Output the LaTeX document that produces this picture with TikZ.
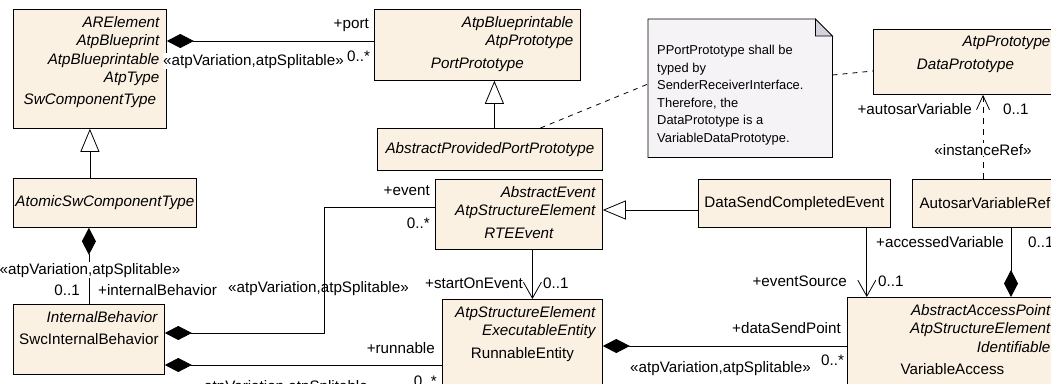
\documentclass[tikz,border=0pt]{standalone}
\usepackage{fontspec}
\setmainfont{Liberation Sans}
\usetikzlibrary{arrows.meta, backgrounds}

\definecolor{clsfill}{RGB}{251,241,227}
\definecolor{notefill}{RGB}{246,243,247}
\definecolor{foldfill}{RGB}{212,210,218}

\newcommand{\umlfont}{\fontsize{15.2}{18.3}\selectfont}
\newcommand{\notefont}{\fontsize{12.9}{17.5}\selectfont}
% class body: width, height, stereotypes, name
\newcommand{\clsbody}[4]{\parbox[c][#2][t]{#1}{\vspace*{7pt}%
  {\raggedleft\rightskip=7pt\itshape #3\par}\vspace{4pt}{\centering #4\par}}}

\begin{document}
\begin{tikzpicture}[x=1pt, y=-1pt,
        cls/.style={draw, fill=clsfill, anchor=north west, inner sep=0pt, line width=0.8pt, font=\umlfont},
        lbl/.style={font=\umlfont, inner sep=0pt},
        comp/.style={{Diamond[length=27pt,width=14pt]}-, line width=0.8pt},
        compend/.style={-{Diamond[length=27pt,width=14pt]}, line width=0.8pt},
        gen/.style={-{Triangle[length=23pt,width=19pt,fill=white]}, line width=0.8pt},
        nav/.style={-{Straight Barb[length=16pt,width=18pt]}, line width=0.8pt},
        dep/.style={-{Straight Barb[length=14pt,width=13pt]}, dash pattern=on 6pt off 5pt, line width=0.8pt},
        notelink/.style={dash pattern=on 5pt off 5pt, line width=0.8pt}
    ]
    \useasboundingbox (0,0) rectangle (1051,383);
    \clip (0,0) rectangle (1051,383);

    % classes
    \node[cls] (swc) at (13,9) {\clsbody{153pt}{119pt}{ARElement\\AtpBlueprint\\AtpBlueprintable\\AtpType}{\itshape SwComponentType}};
    \node[cls] (port) at (374,9) {\clsbody{206pt}{71pt}{AtpBlueprintable\\AtpPrototype}{\itshape PortPrototype}};
    \node[cls, minimum width=225pt, minimum height=42pt] (appp) at (377,128) {\itshape AbstractProvidedPortPrototype};
    \node[cls] (dataproto) at (873,29) {\clsbody{184pt}{65pt}{AtpPrototype}{\itshape DataPrototype}};
    \node[cls, minimum width=183pt, minimum height=49pt] (atomic) at (13,178) {\itshape AtomicSwComponentType};
    \node[cls] (rte) at (435,179) {\clsbody{167pt}{70pt}{AbstractEvent\\AtpStructureElement}{\itshape RTEEvent}};
    \node[cls, minimum width=192pt, minimum height=48pt] (dsce) at (698,179) {DataSendCompletedEvent};
    \node[cls, minimum width=145pt, minimum height=48pt] (avr) at (912,179) {AutosarVariableRef};
    \node[cls] (ib) at (13,304) {\clsbody{151pt}{70pt}{InternalBehavior}{SwcInternalBehavior}};
    \node[cls] (runnable) at (442,299) {\clsbody{160pt}{90pt}{AtpStructureElement\\ExecutableEntity}{RunnableEntity}};
    \node[cls] (va) at (847,297) {\clsbody{210pt}{120pt}{AbstractAccessPoint\\AtpStructureElement\\Identifiable}{VariableAccess}};

    % note
    \node[anchor=north west, inner sep=0pt, font=\notefont] (note) at (648,19) {\parbox[c][138pt][t]{184pt}{\vspace*{26pt}\raggedright\leftskip=9pt
        PPortPrototype shall be\\typed by\\SenderReceiverInterface.\\Therefore, the\\DataPrototype is a\\VariableDataPrototype.}};
    \begin{scope}[on background layer]
        \fill[white] (0,0) rectangle (1051,383);
        \draw[fill=notefill, line width=0.8pt] (note.north west) -- ([xshift=-17pt]note.north east) -- ([yshift=-17pt]note.north east) -- (note.south east) -- (note.south west) -- cycle;
        \draw[fill=foldfill, line width=0.8pt] ([xshift=-17pt]note.north east) -- ([xshift=-17pt,yshift=-17pt]note.north east) -- ([yshift=-17pt]note.north east) -- cycle;
    \end{scope}
    \draw[notelink] ([xshift=50.5pt]appp.north) -- ([yshift=-65pt]note.north west);
    \draw[notelink] ([yshift=-56pt]note.north east) -- ([yshift=-42pt]dataproto.north west);

    % connectors
    \draw[comp] ([yshift=-32pt]swc.north east) -- ([yshift=-32pt]swc.north east -| port.west);
    \draw[gen] (atomic.north -| swc.south) -- (swc.south);
    \draw[gen] ([xshift=4.5pt]appp.north) -- ([xshift=4.5pt]appp.north |- port.south);
    \draw[comp] (ib.north |- atomic.south) -- (ib.north);
    \coordinate (evbend) at (324,207);
    \draw[comp] ([yshift=-29pt]ib.north east) -| (evbend) -- (evbend -| rte.west);
    \draw[comp] ([yshift=-61pt]ib.north east) -- ([yshift=-61pt]ib.north east -| runnable.west);
    \draw[gen] ([yshift=-31pt]dsce.north west) -- ([yshift=-31pt]dsce.north west -| rte.east);
    \draw[nav] ([xshift=13.5pt]rte.south) -- ([xshift=13.5pt]rte.south |- runnable.north);
    \draw[comp] ([yshift=-47pt]runnable.north east) -- ([yshift=-47pt]runnable.north east -| va.west);
    \draw[nav] ([xshift=-24pt]dsce.south east) -- ([xshift=-24pt]dsce.south east |- va.north);
    \draw[compend] ([xshift=99pt]avr.south west) -- ([xshift=99pt]avr.south west |- va.north);
    \draw[dep] ([xshift=71pt]avr.north west) -- ([xshift=71pt]avr.north west |- dataproto.south);

    % role names, multiplicities, stereotypes
    \node[lbl, anchor=base east] (portrole) at (369,28) {+port};
    \node[lbl, anchor=base west, fill=white, inner sep=0.5pt] (portst) at (162.5,65) {«atpVariation,atpSplitable»};
    \node[lbl, anchor=base west] (portmult) at (347,61) {0..*};
    \node[lbl, anchor=base, fill=white, inner sep=0.5pt] (ibst) at (90,274) {«atpVariation,atpSplitable»};
    \node[lbl, anchor=base east] (ibmult) at (80,295) {0..1};
    \node[lbl, anchor=base west] (ibrole) at (98,295) {+internalBehavior};
    \node[lbl, anchor=base east] (evrole) at (430,195) {+event};
    \node[lbl, anchor=base east] (evmult) at (430,228) {0..*};
    \node[lbl, anchor=base west] (evst) at (228,292) {«atpVariation,atpSplitable»};
    \node[lbl, anchor=base east] (runrole) at (435,353) {+runnable};
    \node[lbl, anchor=base east] (runmult) at (437,386) {0..*};
    \node[lbl, anchor=base] (runst) at (286,391) {«atpVariation,atpSplitable»};
    \node[lbl, anchor=base east] (startrole) at (523,288) {+startOnEvent};
    \node[lbl, anchor=base west] (startmult) at (543,288) {0..1};
    \node[lbl, anchor=base east] (dsprole) at (841,333) {+dataSendPoint};
    \node[lbl, anchor=base west] (dspst) at (630,372) {«atpVariation,atpSplitable»};
    \node[lbl, anchor=base west] (dspmult) at (821,365) {0..*};
    \node[lbl, anchor=base west] (accrole) at (876,247) {+accessedVariable};
    \node[lbl, anchor=base east] (srcrole) at (847,286) {+eventSource};
    \node[lbl, anchor=base west] (srcmult) at (878,286) {0..1};
    \node[lbl, anchor=base west] (accmult) at (1028,247) {0..1};
    \node[lbl, anchor=base east] (varrole) at (972,114) {+autosarVariable};
    \node[lbl, anchor=base west] (varmult) at (1003,114) {0..1};
    \node[lbl, anchor=base, fill=white, inner sep=0.5pt] (instst) at (983,155) {«instanceRef»};
\end{tikzpicture}
\end{document}
